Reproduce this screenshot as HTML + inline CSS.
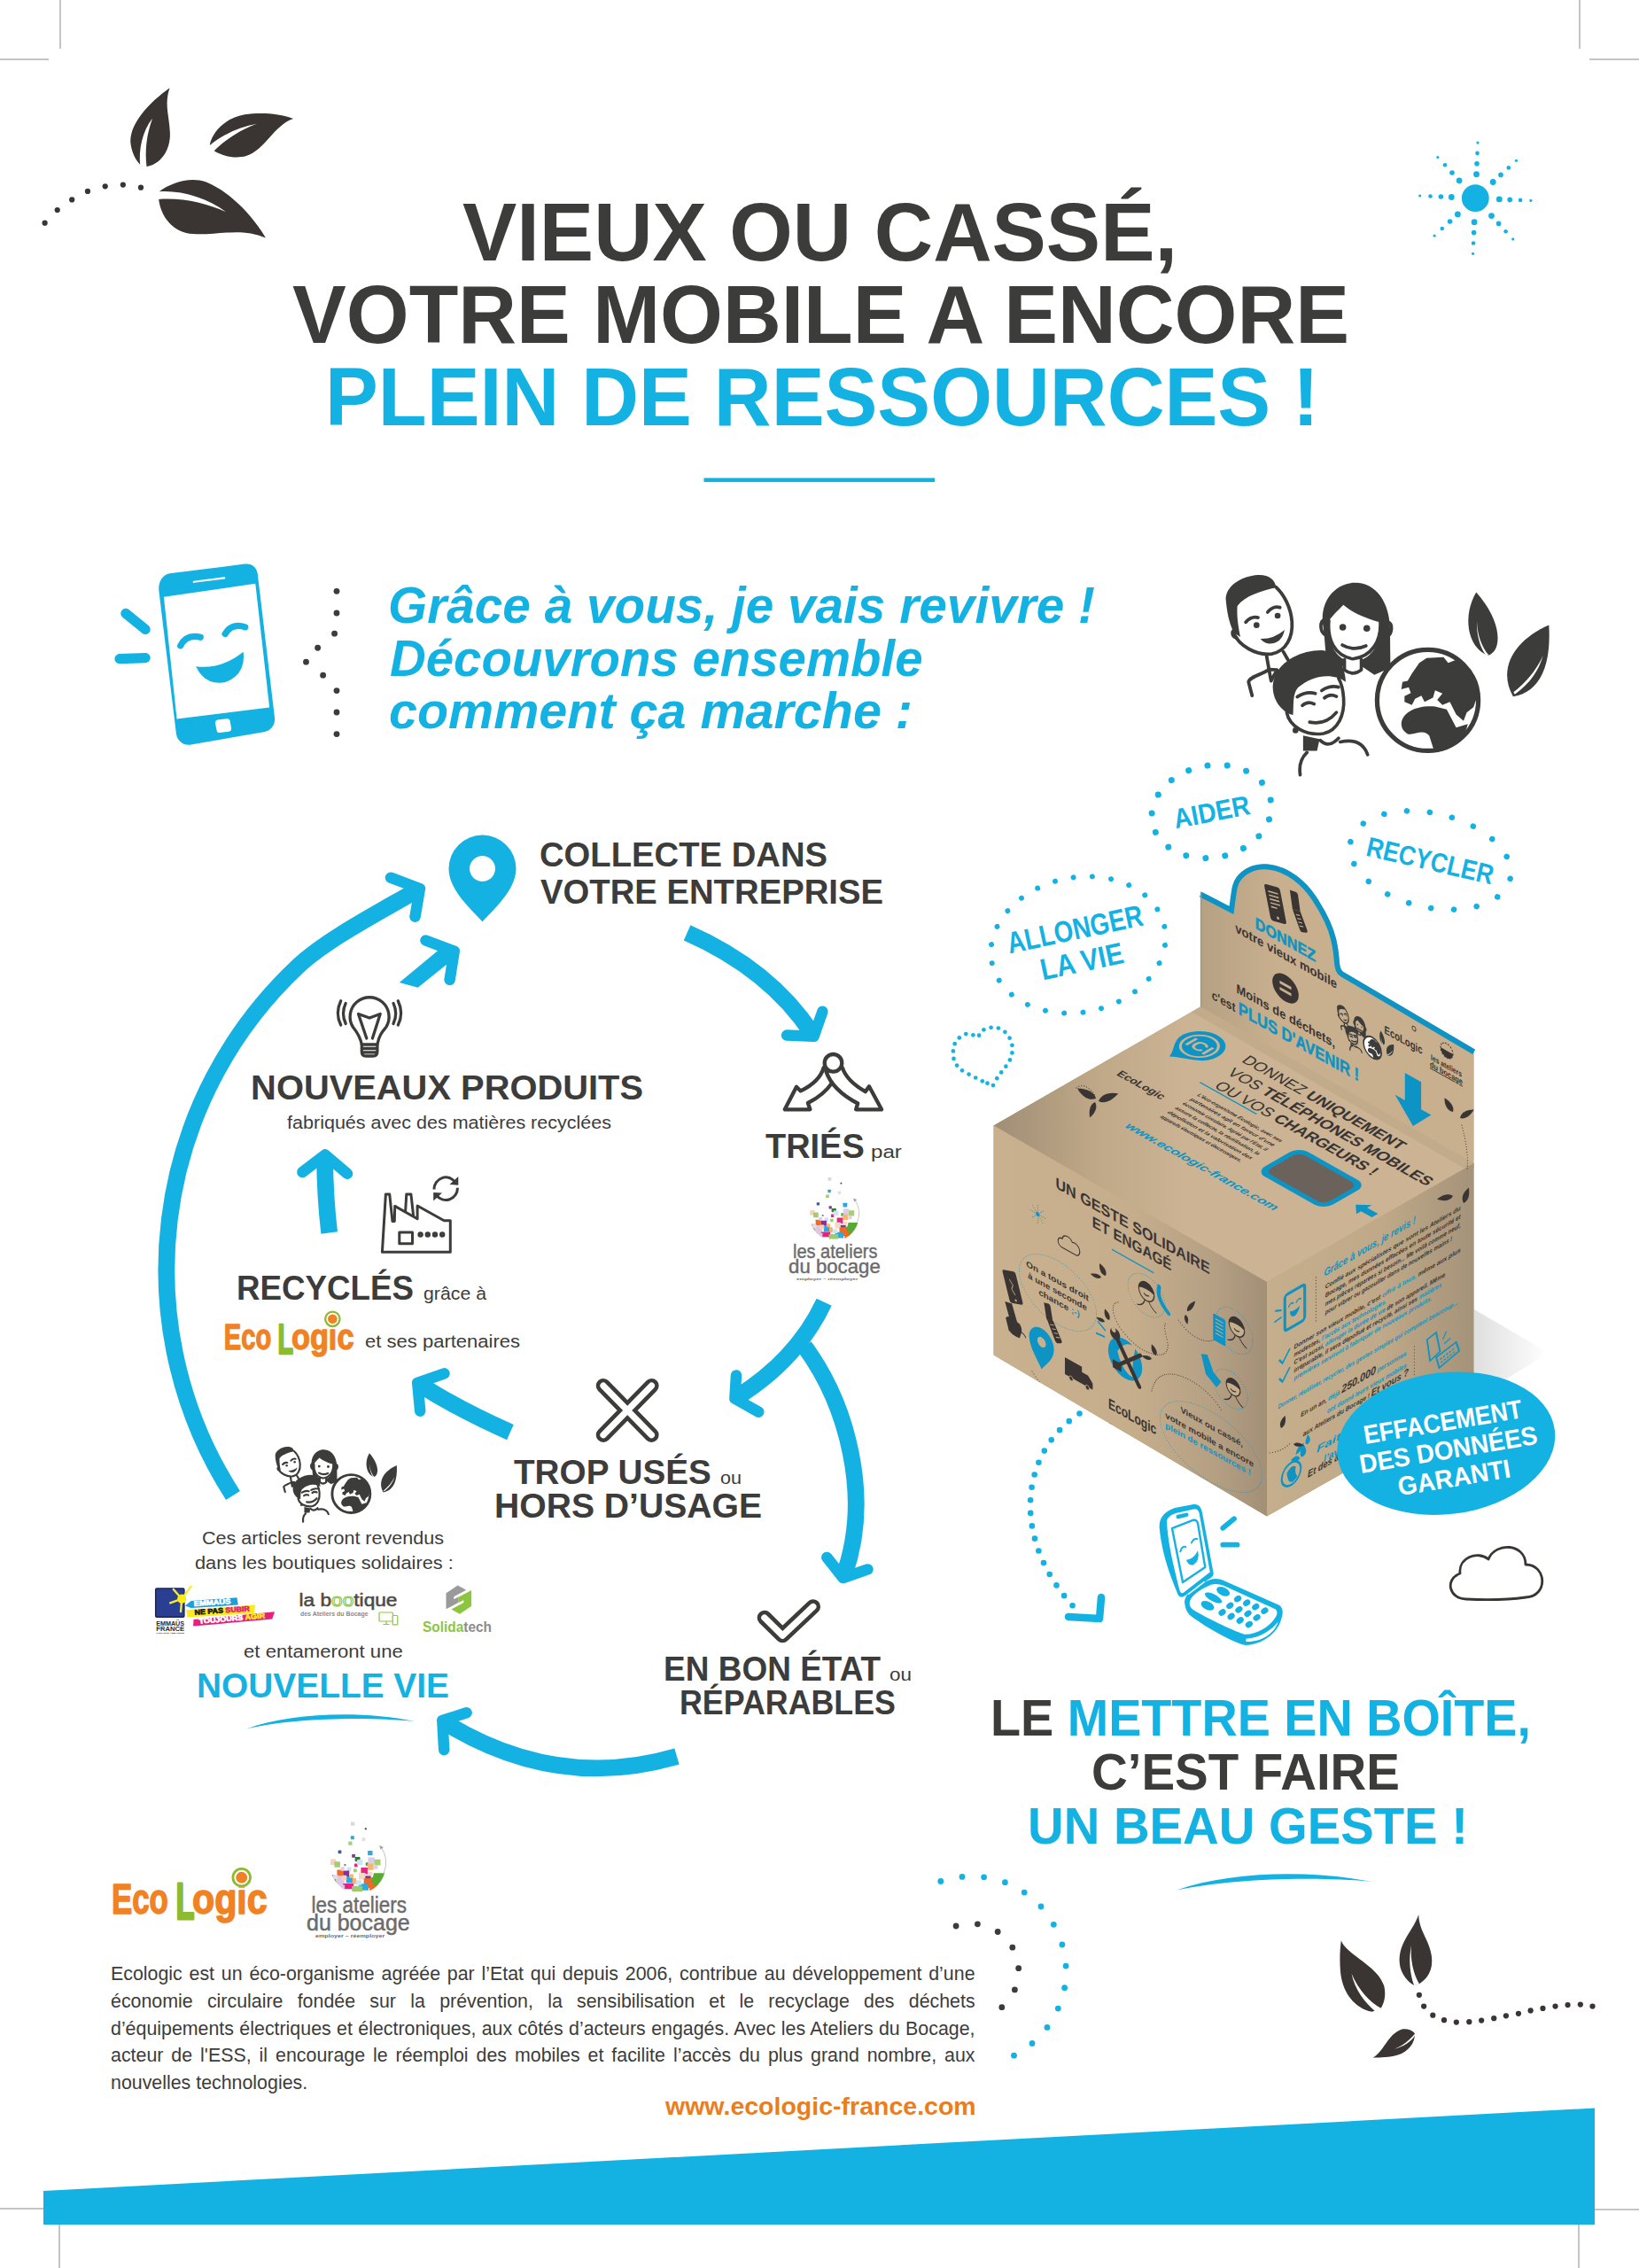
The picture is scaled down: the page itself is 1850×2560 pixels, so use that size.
<!DOCTYPE html>
<html lang="fr">
<head>
<meta charset="utf-8">
<title>Vieux ou cassé, votre mobile a encore plein de ressources !</title>
<style>
html,body{margin:0;padding:0;background:#fff;}
body{width:1850px;height:2560px;overflow:hidden;position:relative;font-family:"Liberation Sans",sans-serif;}
svg{position:absolute;left:0;top:0;display:block;}
text{font-family:"Liberation Sans",sans-serif;}
.b{font-weight:bold;}
.i{font-style:italic;}
.dk{fill:#3c3c3b;}
.bl{fill:#14b2e2;}
.para{position:absolute;left:125px;top:2213px;width:977px;font-size:23.5px;line-height:30.5px;color:#3c3c3b;text-align:justify;margin:0;letter-spacing:-0.1px;}
.url{position:absolute;left:700px;top:2368px;width:402px;text-align:right;font-size:26px;font-weight:bold;color:#ea7d1e;margin:0;}
</style>
</head>
<body>
<svg width="1850" height="2560" viewBox="0 0 1850 2560">
<defs>
<g id="leaf">
<path d="M0,0 C-22,-18 -26,-52 -2,-92 C20,-52 20,-18 0,0 Z"/>
</g>
</defs>

<!-- SECTION:cropmarks -->
<g stroke="#8a8a8a" stroke-width="1" fill="none">
<path d="M68,0V55 M0,67H55 M1783,0V55 M1794,67H1850 M0,2493H55 M67,2506V2560 M1794,2494H1850 M1782,2506V2560"/>
</g>

<!-- SECTION:band -->
<polygon points="49,2473 1800,2379.5 1800,2511 49,2511" fill="#14b2e2"/>

<!-- SECTION:title -->
<g class="b" font-size="93">
<text class="dk" x="522" y="293.5" textLength="807" lengthAdjust="spacingAndGlyphs">VIEUX OU CASSÉ,</text>
<text class="dk" x="330" y="386.5" textLength="1193" lengthAdjust="spacingAndGlyphs">VOTRE MOBILE A ENCORE</text>
<text class="bl" x="367" y="479.5" textLength="1122" lengthAdjust="spacingAndGlyphs">PLEIN DE RESSOURCES !</text>
</g>
<rect x="794.5" y="539.5" width="260.5" height="4.6" fill="#14b2e2"/>

<!-- SECTION:intro -->
<g class="b i bl" font-size="57">
<text x="438" y="702.5" textLength="798" lengthAdjust="spacingAndGlyphs">Grâce à vous, je vais revivre !</text>
<text x="440" y="763" textLength="601.5" lengthAdjust="spacingAndGlyphs">Découvrons ensemble</text>
<text x="439" y="822" textLength="591" lengthAdjust="spacingAndGlyphs">comment ça marche :</text>
</g>

<!-- SECTION:cycle -->
<!-- arrows -->
<g fill="none" stroke="#14b2e2" stroke-width="18.8">
<path d="M263,1688 A469.4,469.4 0 0 1 336,1091 C368.7,1060 430.9,1028.2 472,1004"/>
<path d="M371.7,1391.5 Q367,1353 366.5,1306"/>
<path d="M575.9,1616.6 Q520,1592 474,1563"/>
<path d="M775.6,1052.9 Q868.9,1094 917,1167"/>
<path d="M930.2,1469.8 Q899.4,1535.2 831,1577.5"/>
<path d="M908,1519.8 C956,1585 985,1690 952,1780"/>
<path d="M764,1982.5 Q628,2022.5 500,1943"/>
</g>
<polygon fill="#14b2e2" points="450.8,1108.9 497.6,1070.3 512,1080 507.4,1085.9 471.7,1114.7"/>
<g fill="none" stroke="#14b2e2" stroke-width="12.5" stroke-linecap="round" stroke-linejoin="round">
<polyline points="441,990.7 473.9,1003 468.5,1034.7"/>
<polyline points="480.5,1061.5 512.7,1073.7 507.6,1105.9"/>
<polyline points="341.4,1323 367,1303.5 392,1324.8"/>
<polyline points="501.5,1550.3 471.2,1561 474.2,1592.7"/>
<polyline points="928.4,1141.7 918.6,1169.7 888.1,1168.5"/>
<polyline points="831,1552.4 829.4,1578.6 856.3,1593.7"/>
<polyline points="933.3,1757.9 951.6,1781 979.4,1771.4"/>
<polyline points="526.6,1933.2 499.3,1942 501.2,1975.2"/>
</g>
<!-- pin -->
<path fill="#14b2e2" fill-rule="evenodd" d="M544.5,1040.5 C536,1030 506.5,1006 506.5,980.5 A38,38 0 1 1 582.5,980.5 C582.5,1006 553,1030 544.5,1040.5 Z M544.5,966 a14.5,14.5 0 1 0 0.01,0 Z"/>

<!-- texts -->
<g class="b dk" font-size="38">
<text x="609.0" y="977.5" textLength="325.0" lengthAdjust="spacingAndGlyphs">COLLECTE DANS</text>
<text x="610.0" y="1020" textLength="387.0" lengthAdjust="spacingAndGlyphs">VOTRE ENTREPRISE</text>
<text x="283.1" y="1240.5" textLength="442.9" lengthAdjust="spacingAndGlyphs">NOUVEAUX PRODUITS</text>
<text x="864.0" y="1306.5" textLength="111.7" lengthAdjust="spacingAndGlyphs">TRIÉS</text>
<text x="267.0" y="1466.5" textLength="200.0" lengthAdjust="spacingAndGlyphs">RECYCLÉS</text>
<text x="580.0" y="1674.5" textLength="222.8" lengthAdjust="spacingAndGlyphs">TROP USÉS</text>
<text x="558.0" y="1713" textLength="302.0" lengthAdjust="spacingAndGlyphs">HORS D’USAGE</text>
<text x="749.1" y="1896.5" textLength="245.1" lengthAdjust="spacingAndGlyphs">EN BON ÉTAT</text>
<text x="767.0" y="1934.5" textLength="244.0" lengthAdjust="spacingAndGlyphs">RÉPARABLES</text>
</g>
<text class="b bl" font-size="39" x="222.0" y="1916" textLength="285.0" lengthAdjust="spacingAndGlyphs">NOUVELLE VIE</text>
<g class="dk" font-size="20.5">
<text x="324.1" y="1273.5" textLength="365.9" lengthAdjust="spacingAndGlyphs">fabriqués avec des matières recyclées</text>
<text x="983.0" y="1306.5" textLength="34.9" lengthAdjust="spacingAndGlyphs">par</text>
<text x="478.0" y="1466.5" textLength="71.0" lengthAdjust="spacingAndGlyphs">grâce à</text>
<text x="412.0" y="1521" textLength="175.1" lengthAdjust="spacingAndGlyphs">et ses partenaires</text>
<text x="813.1" y="1674.5" textLength="24" lengthAdjust="spacingAndGlyphs">ou</text>
<text x="1004" y="1896.5" textLength="25" lengthAdjust="spacingAndGlyphs">ou</text>
<text x="228.0" y="1743" textLength="273.0" lengthAdjust="spacingAndGlyphs">Ces articles seront revendus</text>
<text x="220.0" y="1771" textLength="291.8" lengthAdjust="spacingAndGlyphs">dans les boutiques solidaires :</text>
<text x="275.0" y="1871" textLength="179.8" lengthAdjust="spacingAndGlyphs">et entameront une</text>
</g>
<path d="M278,1951.5 C330,1932.5 410,1931 468,1943 C410,1937.5 330,1939.5 278,1951.5 Z" fill="#14b2e2"/>

<!-- lightbulb -->
<g fill="none" stroke="#3c3c3b" stroke-width="3.3" stroke-linecap="round" stroke-linejoin="round">
<path d="M408.3,1179 C406,1168 402,1164 398.5,1159.5 A22,22 0 1 1 435.7,1159.5 C432,1164 428,1168 425.9,1179 Z"/>
<path d="M408.3,1179 V1187 Q408.3,1192 413,1192 H421 Q425.9,1192 425.9,1187 V1179 M409,1183.5 H425 M409,1187.8 H425"/>
<path d="M413.8,1172 L404.5,1144.5 L417.1,1149 L429.2,1144.5 L420.4,1172"/>
<path d="M384.7,1129.7 Q378,1143.5 384.7,1157.1 M390.2,1132.4 Q384.8,1144 390.2,1155.5 M444,1132.4 Q449.4,1144 444,1155.5 M449.3,1129.7 Q456,1143.5 449.3,1157.1"/>
</g>
<!-- factory -->
<g fill="none" stroke="#3c3c3b" stroke-width="3" stroke-linejoin="round">
<path d="M431.4,1413.3 L435.4,1347.9 H439.7 L443,1378.5 H445.3 L445.7,1361.4 L471.1,1375.7 V1361 L501.2,1377.7 H508.3 V1413.3 Z"/>
<path d="M457.6,1367.5 L458.8,1347.9 H463.9 L466.7,1372.9"/>
<rect x="450.8" y="1391.1" width="14.7" height="12.7"/>
<circle cx="474.6" cy="1393.5" r="1.7"/><circle cx="482.8" cy="1393.5" r="1.7"/><circle cx="491" cy="1393.5" r="1.7"/><circle cx="499.2" cy="1393.5" r="1.7"/>
<path d="M490,1342.5 A13.2,13.2 0 0 1 514,1334.5" />
<path d="M516.4,1340.7 A13.2,13.2 0 0 1 492.5,1349"/>
</g>
<path fill="#3c3c3b" d="M517.3,1328 L517.3,1337.8 L507.5,1337 Z M489.2,1355.5 L489.2,1346 L499,1346.6 Z"/>
<!-- split icon -->
<g fill="#fff" stroke="#3c3c3b" stroke-width="4.3" stroke-linejoin="round">
<path d="M929.8,1204.9 C926,1218 915,1226 903.7,1231.4 L899,1226.7 L885.8,1252.3 H914.4 L911.9,1245 C924,1239 934,1230 940,1221.1 L945,1210 Z"/>
<path d="M950.7,1204.9 C955,1218 966,1226 976.8,1232.2 L981,1226.3 L995.1,1252.3 H966.1 L968.2,1245.5 C954,1238 938,1226 932.4,1209.2 Z"/>
<circle cx="940.5" cy="1199.8" r="9.8"/>
</g>
<!-- X icon -->
<g fill="none" stroke-linecap="round">
<path stroke="#3c3c3b" stroke-width="16.5" d="M681,1564.2 L735.4,1619.7 M735.4,1564.2 L681,1619.7"/>
<path stroke="#fff" stroke-width="7.3" d="M681,1564.2 L735.4,1619.7 M735.4,1564.2 L681,1619.7"/>
</g>
<!-- check icon -->
<g fill="none" stroke-linecap="round" stroke-linejoin="round">
<path stroke="#3c3c3b" stroke-width="16.5" d="M862.9,1826 L883.3,1846.1 L917.8,1813.5"/>
<path stroke="#fff" stroke-width="7.3" d="M862.9,1826 L883.3,1846.1 L917.8,1813.5"/>
</g>

<defs>
<g id="ecologic">
<text class="b" font-size="49" y="0" stroke-width="1.6" stroke-linejoin="round"><tspan x="0.8" fill="#f08223" stroke="#f08223" textLength="64" lengthAdjust="spacingAndGlyphs">Eco</tspan><tspan x="73.5" dy="5.8" font-size="58" fill="#8dbb30" stroke="#8dbb30" stroke-width="3" textLength="21" lengthAdjust="spacingAndGlyphs">L</tspan><tspan x="92" dy="-5.8" fill="#f08223" stroke="#f08223" textLength="84.5" lengthAdjust="spacingAndGlyphs">ogic</tspan></text>
<circle cx="147.6" cy="-40.6" r="11.2" fill="#fff"/>
<circle cx="147.6" cy="-40.6" r="9.8" fill="none" stroke="#8dbb30" stroke-width="2.8"/>
<circle cx="147.6" cy="-40.6" r="6.4" fill="#f08223"/>
</g>
<g id="ateliers"><g transform="translate(330,2040) scale(0.091516)">
<clipPath id="atc"><path d="M470,100 H1150 V720 A340,340 0 0 1 470,720 Z"/></clipPath>
<g clip-path="url(#atc)">
<polygon points="470,830 545,830 575,930 470,930" fill="#5aaa32"/>
<polygon points="1005,810 1160,810 1160,1000 960,1000" fill="#5aaa32"/>
<rect x="721" y="181" width="47" height="47" rx="6" fill="#d9d9d9"/>
<rect x="893" y="253" width="23" height="23" rx="6" fill="#3c4a3c"/>
<rect x="719" y="352" width="44" height="44" rx="6" fill="#3ba7c4"/>
<rect x="859" y="374" width="41" height="41" rx="6" fill="#ebd9dc"/>
<rect x="691" y="421" width="47" height="47" rx="6" fill="#a8cf7a"/>
<rect x="564" y="529" width="41" height="41" rx="6" fill="#3f5aa0"/>
<rect x="930" y="535" width="59" height="59" rx="6" fill="#29abe2"/>
<rect x="734" y="579" width="41" height="41" rx="6" fill="#7b3f8c"/>
<rect x="772" y="613" width="64" height="53" rx="6" fill="#2e7d3a"/>
<rect x="469" y="639" width="70" height="70" rx="6" fill="#f3d3bc"/>
<rect x="519" y="669" width="70" height="70" rx="6" fill="#a3cc74"/>
<rect x="638" y="700" width="23" height="23" rx="6" fill="#808080"/>
<rect x="764" y="694" width="41" height="41" rx="6" fill="#d6337e"/>
<rect x="799" y="644" width="70" height="70" rx="6" fill="#cde6f5"/>
<rect x="904" y="679" width="41" height="41" rx="6" fill="#4fa535"/>
<rect x="933" y="618" width="82" height="82" rx="6" fill="#d9cde8"/>
<rect x="1011" y="641" width="76" height="76" rx="6" fill="#a6cf6e"/>
<rect x="926" y="696" width="76" height="76" rx="6" fill="#f7b56f"/>
<rect x="1006" y="716" width="47" height="47" rx="6" fill="#dccfe6"/>
<rect x="673" y="738" width="53" height="53" rx="6" fill="#cfe3f2"/>
<rect x="754" y="759" width="41" height="41" rx="6" fill="#9ccb6c"/>
<rect x="846" y="743" width="82" height="82" rx="6" fill="#e5277e"/>
<rect x="551" y="771" width="76" height="76" rx="6" fill="#ee6b21"/>
<rect x="626" y="781" width="76" height="76" rx="6" fill="#8e2f92"/>
<rect x="818" y="808" width="82" height="82" rx="6" fill="#f5d9c8"/>
<rect x="536" y="851" width="106" height="106" rx="6" fill="#dcc8e4"/>
<rect x="663" y="853" width="82" height="82" rx="6" fill="#27aae1"/>
<rect x="741" y="874" width="47" height="70" rx="6" fill="#f6b26b"/>
<rect x="899" y="844" width="70" height="70" rx="6" fill="#7e3a8a"/>
<rect x="881" y="876" width="118" height="118" rx="6" fill="#f26a21"/>
<rect x="625" y="939" width="129" height="70" rx="6" fill="#e91e7f"/>
<rect x="821" y="943" width="118" height="82" rx="6" fill="#2aabe2"/>
<rect x="735" y="969" width="129" height="70" rx="6" fill="#9ccb6c"/>
<rect x="610" y="840" width="59" height="59" rx="6" fill="#f3d3bc"/>
<rect x="784" y="900" width="70" height="59" rx="6" fill="#cde6f5"/>
<rect x="974" y="864" width="70" height="70" rx="6" fill="#5aaa32"/>
<rect x="500" y="830" width="59" height="59" rx="6" fill="#ead9ee"/>
<rect x="930" y="796" width="59" height="47" rx="6" fill="#f5d9c8"/>
<rect x="706" y="826" width="47" height="47" rx="6" fill="#f7b56f"/>
<rect x="596" y="736" width="47" height="47" rx="6" fill="#dccfe6"/>
<rect x="952" y="964" width="94" height="70" rx="6" fill="#f26a21"/>
<rect x="552" y="955" width="94" height="59" rx="6" fill="#dcc8e4"/>
</g>
<path d="M1128,810 A340,340 0 0 0 1100,500" fill="none" stroke="#a0a0a0" stroke-width="7"/>
<polygon points="1072,470 1125,492 1088,520" fill="#a0a0a0"/>
</g>
<g fill="#6b6b6b" stroke="#6b6b6b" stroke-width="0.45">
<text x="351.5" y="2159" font-size="25" textLength="107.5" lengthAdjust="spacingAndGlyphs">les ateliers</text>
<text x="346" y="2178.8" font-size="25" textLength="116.7" lengthAdjust="spacingAndGlyphs">du bocage</text>
<text class="b" stroke="none" x="356" y="2187" font-size="4.6" textLength="78.3" lengthAdjust="spacingAndGlyphs">employer – réemployer</text>
</g></g>
</defs>
<use href="#ecologic" transform="translate(125.1,2159.8)"/>
<use href="#ecologic" transform="translate(252.1,1522.7) scale(0.835)"/>
<use href="#ateliers"/>
<use href="#ateliers" transform="translate(941.7,1372.7) scale(0.888) translate(-404.1,-2105.9)"/>
<g transform="translate(170,1785) scale(0.091516)">
<rect x="62" y="88" width="352" height="352" rx="14" fill="#2a3f92" stroke="#1b2454" stroke-width="16"/>
<g stroke="#f4ec3a" stroke-width="26" stroke-linecap="round"><path d="M385,215 L498,62 M385,215 L282,98 M385,215 L242,266 M385,215 L372,372"/></g>
<circle cx="385" cy="215" r="56" fill="#fbea1e"/>
<polygon points="425,300 500,240 1065,200 1080,290 500,328" fill="#1e9fda"/>
<polygon points="440,352 1290,290 1275,395 452,442" fill="#fbea1e"/>
<polygon points="530,470 1530,375 1500,465 525,552" fill="#e6207e"/>
<g class="b" font-size="88" stroke-width="7" stroke-linejoin="round">
<text transform="rotate(-4 535 305)" x="535" y="305" fill="#fff" stroke="#fff" textLength="455" lengthAdjust="spacingAndGlyphs">EMMAÜS</text>
<text transform="rotate(-4 545 412)" x="545" y="412" textLength="680" lengthAdjust="spacingAndGlyphs"><tspan fill="#1a1a1a" stroke="#1a1a1a">NE PAS </tspan><tspan fill="#e6207e" stroke="#e6207e">SUBIR</tspan></text>
<text transform="rotate(-5 600 522)" x="600" y="522" textLength="815" lengthAdjust="spacingAndGlyphs"><tspan fill="#fff" stroke="#fff">TOUJOURS </tspan><tspan fill="#fbea1e" stroke="#fbea1e">AGIR</tspan></text>
</g>
<g class="b" fill="#2b2b2b">
<text x="68" y="545" font-size="78" textLength="348" lengthAdjust="spacingAndGlyphs">EMMAÜS</text>
<text x="68" y="612" font-size="78" textLength="348" lengthAdjust="spacingAndGlyphs">FRANCE</text>
<text x="68" y="642" font-size="26" textLength="348" lengthAdjust="spacingAndGlyphs">FONDATEUR ABBÉ PIERRE</text>
</g>
</g>
<g>
<text x="337.5" y="1813" font-size="19.5" textLength="111" lengthAdjust="spacingAndGlyphs" stroke-width="0.5"><tspan fill="#4a4a4a" stroke="#4a4a4a">la b</tspan><tspan fill="#fff" stroke="#8cc63f" stroke-width="1">oo</tspan><tspan fill="#4a4a4a" stroke="#4a4a4a">tique</tspan></text>
<text x="339" y="1823.8" font-size="6.4" class="b" fill="#8a8a8a" textLength="76.5" lengthAdjust="spacingAndGlyphs">des Ateliers du Bocage</text>
<g fill="none" stroke="#8cc63f" stroke-width="1.2"><rect x="428" y="1820" width="15.5" height="10" rx="1"/><path d="M432.5,1833.5 H439.5 M436,1830 V1833.5"/><rect x="443.2" y="1823.5" width="5.6" height="10.4" rx="1" fill="#fff"/></g>
</g>
<g>
<g transform="translate(330,1780) scale(0.14643)">
<polygon fill="#9a9a9a" points="1275,65 1340,100 1245,152 1245,172 1282,152 1282,197 1185,248 1185,125"/>
<polygon fill="#8cc63f" points="1290,285 1225,250 1320,198 1320,178 1283,198 1283,153 1380,102 1380,225"/>
</g>
<text x="477" y="1842.2" font-size="16.5" class="b" textLength="78" lengthAdjust="spacingAndGlyphs"><tspan fill="#8cc63f">Solida</tspan><tspan fill="#8c8c8c">tech</tspan></text>
</g>
<!-- SECTION:right -->
<g transform="translate(1367.5,916) rotate(-11)">
<ellipse rx="68" ry="52" fill="none" stroke="#14b2e2" stroke-width="7" stroke-linecap="round" pathLength="17" stroke-dasharray="0 1"/>
<text class="b bl" font-size="31" text-anchor="middle" x="0" y="11.2" textLength="87" lengthAdjust="spacingAndGlyphs">AIDER</text>
</g>
<g transform="translate(1614.5,971) rotate(13)">
<ellipse rx="92.5" ry="53" fill="none" stroke="#14b2e2" stroke-width="6.6" stroke-linecap="round" pathLength="18" stroke-dasharray="0 1"/>
<text class="b bl" font-size="31" text-anchor="middle" x="0" y="11.2" textLength="146" lengthAdjust="spacingAndGlyphs">RECYCLER</text>
</g>
<g transform="translate(1217,1066.5) rotate(-12)">
<ellipse rx="99.5" ry="76" fill="none" stroke="#14b2e2" stroke-width="6" stroke-linecap="round" pathLength="26" stroke-dasharray="0 1"/>
<text class="b bl" font-size="34" text-anchor="middle" x="0" y="-6.3" textLength="156" lengthAdjust="spacingAndGlyphs">ALLONGER</text>
<text class="b bl" font-size="34" text-anchor="middle" x="0" y="30.7" textLength="95" lengthAdjust="spacingAndGlyphs">LA VIE</text>
</g>
<g fill="#14b2e2">
<circle cx="1105.1" cy="1168.7" r="2.35"/>
<circle cx="1098.4" cy="1168.3" r="2.35"/>
<circle cx="1090.3" cy="1167.1" r="2.35"/>
<circle cx="1082.8" cy="1171.4" r="2.35"/>
<circle cx="1077.7" cy="1178.2" r="2.35"/>
<circle cx="1075.9" cy="1186.4" r="2.35"/>
<circle cx="1076.5" cy="1194.9" r="2.35"/>
<circle cx="1080.1" cy="1202.6" r="2.35"/>
<circle cx="1086.0" cy="1208.3" r="2.35"/>
<circle cx="1093.6" cy="1212.6" r="2.35"/>
<circle cx="1101.2" cy="1216.5" r="2.35"/>
<circle cx="1108.8" cy="1220.3" r="2.35"/>
<circle cx="1114.5" cy="1222.7" r="2.35"/>
<circle cx="1121.0" cy="1225.1" r="2.35"/>
<circle cx="1125.3" cy="1217.2" r="2.35"/>
<circle cx="1130.2" cy="1210.4" r="2.35"/>
<circle cx="1135.4" cy="1203.7" r="2.35"/>
<circle cx="1139.9" cy="1196.4" r="2.35"/>
<circle cx="1142.4" cy="1188.4" r="2.35"/>
<circle cx="1142.4" cy="1179.8" r="2.35"/>
<circle cx="1139.6" cy="1171.7" r="2.35"/>
<circle cx="1134.4" cy="1164.8" r="2.35"/>
<circle cx="1126.9" cy="1160.5" r="2.35"/>
<circle cx="1118.6" cy="1159.8" r="2.35"/>
<circle cx="1110.4" cy="1162.3" r="2.35"/>
</g>
<defs>
<linearGradient id="gTop" gradientUnits="userSpaceOnUse" x1="1122" y1="1273" x2="1340" y2="1273"><stop offset="0" stop-color="#a08e75"/><stop offset="0.55" stop-color="#c0a988"/><stop offset="1" stop-color="#cbb393"/></linearGradient>
<linearGradient id="gLeft" gradientUnits="userSpaceOnUse" x1="1122" y1="0" x2="1431" y2="0"><stop offset="0" stop-color="#c9b190"/><stop offset="0.5" stop-color="#c6ae8c"/><stop offset="0.8" stop-color="#b5a084"/><stop offset="1" stop-color="#a18f76"/></linearGradient>
<linearGradient id="gRight" gradientUnits="userSpaceOnUse" x1="1431" y1="0" x2="1662" y2="0"><stop offset="0" stop-color="#c4ae8c"/><stop offset="0.55" stop-color="#bfa988"/><stop offset="1" stop-color="#a5937a"/></linearGradient>
<linearGradient id="gSlot" gradientUnits="userSpaceOnUse" x1="1430" y1="1300" x2="1530" y2="1350"><stop offset="0" stop-color="#6b625c"/><stop offset="1" stop-color="#8c8072"/></linearGradient>
<linearGradient id="gBack" gradientUnits="userSpaceOnUse" x1="1355" y1="0" x2="1440" y2="0"><stop offset="0" stop-color="#b5a183"/><stop offset="1" stop-color="#c8af8e"/></linearGradient>
<linearGradient id="gShadow" gradientUnits="userSpaceOnUse" x1="1662" y1="0" x2="1748" y2="0"><stop offset="0" stop-color="#dedede"/><stop offset="1" stop-color="#ffffff"/></linearGradient>
</defs>
<polygon points="1664,1478 1748,1527 1664,1579" fill="url(#gShadow)"/>
<path d="M1355.2,1143 L1355.2,1006.7 L1390,1024.5 C1391,1006 1392,996 1396,990 C1404,979 1418,974.5 1431.3,975.6 C1456,978 1474,996 1485.2,1012 C1498,1031 1505,1048 1508,1059.6 C1511,1072 1511.5,1082 1512.2,1088.6 C1513,1093 1514,1095.5 1516.3,1096.9 L1663.7,1183.8 L1663.7,1319 Z" fill="url(#gBack)"/>
<path d="M1355.2,1009.5 L1390,1027.3 C1393,1006 1393,998 1398,992 C1406,982 1418,977.5 1431.3,978.5 C1454,981 1472,997 1483,1013.5 C1496,1033 1502.5,1049 1505.2,1060.5 C1508.5,1074 1508.5,1083 1509.3,1089.5 C1510.2,1095 1512,1098 1514.8,1099.6 L1663.7,1187.3" fill="none" stroke="#0d93c4" stroke-width="6"/>
<polygon points="1355.2,1136.3 1663.5,1313 1663.5,1579 1430,1711.5 1121.5,1529.5 1121.5,1270.6" fill="#bfa988"/>
<polygon points="1355.2,1136.3 1663.5,1313 1430,1447 1121.5,1270.6" fill="url(#gTop)"/>
<polygon points="1121.5,1270.6 1430,1447 1430,1711.5 1121.5,1529.5" fill="url(#gLeft)"/>
<polygon points="1430,1447 1663.5,1313 1663.5,1579 1430,1711.5" fill="url(#gRight)"/>
<polygon points="1355.2,1136.3 1663.5,1313 1653.5,1319 1345.2,1142.3" fill="#b9a384" opacity="0.5"/>
<g transform="matrix(0.8720,0.4897,0.0000,1.0000,1355.6,1138.6)">
<text class="b" fill="#0d93c4" font-size="18" x="70.2" y="-125.4" textLength="78.4" lengthAdjust="spacingAndGlyphs" stroke="#0d93c4" stroke-width="0.5">DONNEZ</text>
<text class="b" fill="#3a3533" font-size="14.5" x="44.4" y="-108.6" textLength="131.7" lengthAdjust="spacingAndGlyphs">votre vieux mobile</text>
<text class="b" fill="#3a3533" font-size="14.5" x="45.9" y="-40.9" textLength="127.8" lengthAdjust="spacingAndGlyphs">Moins de déchets,</text>
<text class="b" x="13.8" y="-17.9" textLength="190.8" lengthAdjust="spacingAndGlyphs"><tspan font-size="14.5" fill="#3a3533">c'est </tspan><tspan font-size="20" fill="#0d93c4" stroke="#0d93c4" stroke-width="0.5">PLUS D'AVENIR !</tspan></text>
<ellipse cx="109.4" cy="-76.6" rx="17" ry="15" fill="#3a3533"/>
<path d="M101.9,-80.2 h15 M101.9,-73.0 h15" stroke="#c8af8e" stroke-width="3.2"/>
<g transform="translate(96.2,-165.2) rotate(-14)"><rect x="-10.5" y="-19" width="21" height="38" rx="3" fill="#3a3533"/><path d="M-6.5,-12 h13 m-13,4 h13 m-13,4 h13 m-13,4 h13 m-13,4 h8" stroke="#c8af8e" stroke-width="1.5"/><circle cx="0" cy="14.5" r="1.6" fill="#c8af8e"/></g>
<g transform="translate(122.0,-159.4)"><path d="M-7,-31 l8,-1.5 q2,0 2.5,2 l3,17 l-10,2.5 Z" fill="#3a3533"/><path d="M-3.5,-11 l10,-2.5 l9,17 q1,2.5 -1.5,3.5 l-5,2 q-2,0.5 -3,-1.5 Z" fill="#3a3533"/><path d="M1,-7 l5,-1.5 m-3.5,5 l5,-1.5 m-3.5,5 l5,-1.5 m-3.5,5 l5,-1.5" stroke="#c8af8e" stroke-width="1.1"/></g>
<text class="b" fill="#3a3533" font-size="13" x="237.3" y="-88.6" textLength="49.3" lengthAdjust="spacingAndGlyphs">EcoLogic</text>
<circle cx="275.7" cy="-112.6" r="2.4" fill="none" stroke="#3a3533" stroke-width="1"/>
<text class="b" fill="#3a3533" font-size="9" x="297.5" y="-88.1" textLength="40.1" lengthAdjust="spacingAndGlyphs">les ateliers</text>
<text class="b" fill="#3a3533" font-size="9.5" x="296.3" y="-79.6" textLength="42.4" lengthAdjust="spacingAndGlyphs" text-decoration="underline">du bocage</text>
<circle cx="318.1" cy="-108.4" r="8" fill="none" stroke="#3a3533" stroke-width="1.2" stroke-dasharray="2 1.5"/>
<path d="M310.1,-108.4 a8,8 0 0 0 16,0 Z" fill="#3a3533"/>
<path d="M264.0,-57.0 h21 v31 h13 l-23.5,24 l-23.5,-24 h13 Z" fill="#0d93c4"/>
<use href="#people" style="--psw:30;--gsw:40" transform="translate(204.9,-72.0) scale(0.048) translate(-660,-480)"/>
</g>
<path d="M1355.6,1006.7 V1136.3" stroke="#a8957a" stroke-width="1.5"/>
<g transform="matrix(0.8720,0.4897,-0.7880,0.6160,1355.6,1138.6)">
<text class="b" fill="#3a3533" font-size="17.5" x="80.7" y="32.3" textLength="205.3" lengthAdjust="spacingAndGlyphs"><tspan font-weight="normal">DONNEZ </tspan>UNIQUEMENT</text>
<text class="b" fill="#3a3533" font-size="17.5" x="81.6" y="54.2" textLength="259.6" lengthAdjust="spacingAndGlyphs"><tspan font-weight="normal">VOS </tspan>TÉLÉPHONES MOBILES</text>
<text class="b" fill="#3a3533" font-size="17.5" x="84.7" y="76.1" textLength="205.3" lengthAdjust="spacingAndGlyphs"><tspan font-weight="normal">OU VOS </tspan>CHARGEURS !</text>
<text class="b i" fill="#3a3533" font-size="6" x="80.5" y="94.9" textLength="108" lengthAdjust="spacingAndGlyphs">L’éco-organisme Ecologic, avec ses</text>
<text class="b i" fill="#3a3533" font-size="6" x="79.1" y="104.0" textLength="108" lengthAdjust="spacingAndGlyphs">partenaires agit en faveur d’une</text>
<text class="b i" fill="#3a3533" font-size="6" x="77.7" y="113.1" textLength="108" lengthAdjust="spacingAndGlyphs">économie circulaire. Agréé par l’État, il</text>
<text class="b i" fill="#3a3533" font-size="6" x="76.2" y="122.2" textLength="108" lengthAdjust="spacingAndGlyphs">assure la collecte, la réutilisation, la</text>
<text class="b i" fill="#3a3533" font-size="6" x="74.8" y="131.3" textLength="108" lengthAdjust="spacingAndGlyphs">dépollution et la valorisation des</text>
<text class="b i" fill="#3a3533" font-size="6" x="73.4" y="140.4" textLength="104" lengthAdjust="spacingAndGlyphs">appareils électriques et électroniques.</text>
<text class="b i" fill="#0d93c4" font-size="12.5" x="56.1" y="172.0" textLength="193.9" lengthAdjust="spacingAndGlyphs">www.ecologic-france.com</text>
<text class="b" fill="#3a3533" font-size="12" x="-0.6" y="121.2" textLength="58.4" lengthAdjust="spacingAndGlyphs">EcoLogic</text>
</g>
<g transform="matrix(0.8720,0.4897,-0.8660,0.4996,1355.6,1138.6)">
<path d="M83.0,85.0 H156.5" stroke="#0d93c4" stroke-width="1.6"/>
<g transform="translate(41.6,43.9) rotate(14.3)">
<path d="M0,32.2 C-6,22.2 -24,15 -24,0 A24,24 0 1 1 24,0 C24,15 6,22.2 0,32.2 Z" fill="#0d93c4"/>
</g>
<circle cx="41.6" cy="43.9" r="17.5" fill="none" stroke="#cbb393" stroke-width="2.6"/>
<text class="b" fill="#cbb393" font-size="20" text-anchor="middle" x="41.6" y="50.9" textLength="27" lengthAdjust="spacingAndGlyphs">ICI</text>
<rect x="221.2" y="95.2" width="88" height="56" rx="12" fill="#0d93c4"/>
<rect x="227.2" y="101.2" width="76" height="44" rx="8" fill="url(#gSlot)"/>
<path d="M349.2,128.9 l0,-8 l-14,0 l0,-6 l-11,10 l11,10 l0,-6 Z" fill="#0d93c4"/>
</g>
<g transform="translate(1237,1240) rotate(-60) scale(0.26)" fill="#3a3533"><use href="#leaf"/></g>
<g transform="translate(1240,1243) rotate(70) scale(0.26)" fill="#3a3533"><use href="#leaf"/></g>
<g transform="translate(1236,1244) rotate(200) scale(0.2)" fill="#3a3533"><use href="#leaf"/></g>
<g transform="translate(1640,1255) rotate(-30) scale(0.2)" fill="#3a3533"><use href="#leaf"/></g>
<g transform="translate(1648,1262) rotate(60) scale(0.2)" fill="#3a3533"><use href="#leaf"/></g>
<g transform="translate(1640,1350) rotate(-100) scale(0.2)" fill="#3a3533"><use href="#leaf"/></g>
<g transform="translate(1652,1358) rotate(20) scale(0.2)" fill="#3a3533"><use href="#leaf"/></g>
<path d="M1215,1228 q10,-8 22,10" fill="none" stroke="#3a3533" stroke-width="1.1" stroke-dasharray="0.1 3" stroke-linecap="round"/>
<path d="M1650,1270 q8,30 6,50" fill="none" stroke="#3a3533" stroke-width="1.1" stroke-dasharray="0.1 3" stroke-linecap="round"/>
<clipPath id="cpL"><polygon points="1121.5,1270.6 1430,1447 1430,1711.5 1121.5,1529.5"/></clipPath>
<g clip-path="url(#cpL)"><g transform="matrix(0.8723,0.4890,0.0000,1.0000,1122.0,1272.8)">
<text class="b" fill="#3a3533" font-size="17.5" x="79.7" y="29.1" textLength="199.7" lengthAdjust="spacingAndGlyphs">UN GESTE SOLIDAIRE</text>
<text class="b" fill="#3a3533" font-size="17.5" x="127.0" y="49.7" textLength="102.7" lengthAdjust="spacingAndGlyphs">ET ENGAGÉ</text>
<path d="M152.5,62.9 H206.7" stroke="#0d93c4" stroke-width="1.5"/>
<text class="b" fill="#3a3533" font-size="9.5" x="41.6" y="136.1" textLength="80.8" lengthAdjust="spacingAndGlyphs">On a tous droit</text>
<text class="b" fill="#3a3533" font-size="9.5" x="43.9" y="148.2" textLength="76.2" lengthAdjust="spacingAndGlyphs">à une seconde</text>
<text class="b" fill="#3a3533" font-size="9.5" x="57.8" y="160.1" textLength="53.1" lengthAdjust="spacingAndGlyphs">chance <tspan fill="#0d93c4">;-)</tspan></text>
<text class="b" fill="#3a3533" font-size="16.5" x="147.9" y="244.2" textLength="62.2" lengthAdjust="spacingAndGlyphs">EcoLogic</text>
<text class="b" fill="#3a3533" font-size="9.5" x="241.3" y="203.2" textLength="80.8" lengthAdjust="spacingAndGlyphs">Vieux ou cassé,</text>
<text class="b" fill="#3a3533" font-size="9.5" x="221.7" y="219.1" textLength="114.2" lengthAdjust="spacingAndGlyphs">votre mobile a encore</text>
<text class="b" fill="#0d93c4" font-size="9.5" x="221.7" y="230.5" textLength="110.7" lengthAdjust="spacingAndGlyphs">plein de ressources !</text>
<ellipse cx="82.5" cy="145.8" rx="50" ry="36" fill="none" stroke="#0d93c4" stroke-width="0.9" stroke-dasharray="0.1 2.6" stroke-linecap="round"/>
<ellipse cx="280.9" cy="222.9" rx="66" ry="40" fill="none" stroke="#0d93c4" stroke-width="0.9" stroke-dasharray="0.1 2.6" stroke-linecap="round"/>
<ellipse cx="197.2" cy="92.8" rx="24" ry="22" fill="none" stroke="#0d93c4" stroke-width="0.9" stroke-dasharray="0.1 2.6" stroke-linecap="round"/>
<ellipse cx="310.7" cy="77.3" rx="24" ry="24" fill="none" stroke="#0d93c4" stroke-width="0.9" stroke-dasharray="0.1 2.6" stroke-linecap="round"/>
<ellipse cx="306.1" cy="145.5" rx="22" ry="20" fill="none" stroke="#0d93c4" stroke-width="0.9" stroke-dasharray="0.1 2.6" stroke-linecap="round"/>
<path d="M87.3,92.1 a5,5 0 0 1 1,-10 a7,7 0 0 1 13,-2 a6,6 0 0 1 6,12 Z" fill="none" stroke="#3a3533" stroke-width="1.2"/>
<circle cx="56.6" cy="70.0" r="2.6" fill="#0d93c4"/>
<g stroke="#0d93c4" stroke-width="1.1" stroke-dasharray="0.1 2.4" stroke-linecap="round">
<path d="M61.1,70.0 L68.6,70.0"/>
<path d="M59.8,73.2 L65.1,78.5"/>
<path d="M56.6,74.5 L56.6,82.0"/>
<path d="M53.4,73.2 L48.1,78.5"/>
<path d="M52.1,70.0 L44.6,70.0"/>
<path d="M53.4,66.8 L48.1,61.5"/>
<path d="M56.6,65.5 L56.6,58.0"/>
<path d="M59.8,66.8 L65.1,61.5"/>
</g>
<g transform="translate(24.1,168.4) rotate(-18)"><rect x="-9" y="-17" width="18" height="34" rx="2.5" fill="#3a3533"/><path d="M-2,-8 l3,6 l-3,4 l3,6" fill="none" stroke="#c6ae8c" stroke-width="1"/><circle cx="0" cy="13.5" r="1.3" fill="#c6ae8c"/></g>
<g transform="translate(24.1,211.4)"><path d="M-10,-22 l9,-2 l7,18 l-9,3 Z" fill="#3a3533"/><path d="M-9,-4 q2,-4 8,-4 l10,2 q4,3 2,10 l-2,6 q-8,2 -14,-2 Z" fill="#3a3533"/><path d="M9,2 q6,0 8,4" fill="none" stroke="#3a3533" stroke-width="1.3"/></g>
<g transform="translate(74.5,189.8)"><path d="M-10,-24 l6,-1.5 q2,0 2.5,2 l3,15 l-8,2 Z" fill="#3a3533"/><path d="M-6,-7 l8,-2 l11,17 q1,2.5 -1.5,3.5 l-4,2 q-2,0.5 -3,-1.5 Z" fill="#3a3533"/><path d="M-2,-3 l5,-1.5 m-2.5,5 l5,-1.5 m-2.5,5 l5,-1.5 m-2.5,5 l5,-1.5" stroke="#c6ae8c" stroke-width="1"/></g>
<path fill-rule="evenodd" fill="#0d93c4" d="M61.5,242.6 c-6,-9 -16,-18 -16,-30 a16,16 0 1 1 32,0 c0,12 -10,21 -16,30 Z M61.5,206.6 a5.5,5.5 0 1 0 0.1,0 Z"/>
<path d="M91.7,214.4 h22 v6 h8 l6,6 v7 h-36 Z" fill="#3a3533"/>
<circle cx="99.7" cy="234.4" r="2.6" fill="#3a3533" stroke="#c6ae8c" stroke-width="0.8"/><circle cx="120.7" cy="234.4" r="2.6" fill="#3a3533" stroke="#c6ae8c" stroke-width="0.8"/>
<circle cx="169.7" cy="178.2" r="22" fill="#0d93c4"/>
<path d="M159.7,174.2 q10,-18 24,-16 q-6,18 -4,36 q-14,0 -20,-20 Z" fill="#c6ae8c"/>
<path d="M157.7,158.2 L187.7,200.2" stroke="#3a3533" stroke-width="5.5" stroke-linecap="round"/>
<path d="M189.7,164.2 L159.7,190.2" stroke="#3a3533" stroke-width="4" stroke-linecap="round"/>
<circle cx="156.7" cy="156.2" r="6.5" fill="#3a3533"/><circle cx="154.7" cy="152.2" r="3" fill="#c6ae8c"/>
<rect x="153.7" y="186.2" width="11" height="9" fill="#3a3533"/>
<path d="M143.7,158.2 l-9,-5 M142.7,166.2 l-10,1" stroke="#0d93c4" stroke-width="2" stroke-linecap="round"/>
<circle cx="197.2" cy="88.8" r="10" fill="#c6ae8c" stroke="#3a3533" stroke-width="1.3"/><path d="M187.2,87.8 a10,10 0 0 1 20.0,0 q-10.0,-4 -20.0,0 Z" fill="#3a3533"/><path d="M193.7,91.8 q3,3 7,0" fill="none" stroke="#3a3533" stroke-width="1.1"/><path d="M195.2,98.8 q-2,8 -10,10 M200.2,98.8 q4,6 10,8" fill="none" stroke="#3a3533" stroke-width="1.2"/>
<circle cx="314.1" cy="71.6" r="10" fill="#c6ae8c" stroke="#3a3533" stroke-width="1.3"/><path d="M304.1,70.6 a10,10 0 0 1 20.0,0 q-10.0,-4 -20.0,0 Z" fill="#3a3533"/><path d="M310.6,74.6 q3,3 7,0" fill="none" stroke="#3a3533" stroke-width="1.1"/><path d="M312.1,81.6 q-2,8 -10,10 M317.1,81.6 q4,6 10,8" fill="none" stroke="#3a3533" stroke-width="1.2"/>
<circle cx="309.5" cy="141.8" r="9" fill="#c6ae8c" stroke="#3a3533" stroke-width="1.3"/><path d="M300.5,140.8 a9,9 0 0 1 18.0,0 q-9.0,-4 -18.0,0 Z" fill="#3a3533"/><path d="M306.0,144.8 q3,3 7,0" fill="none" stroke="#3a3533" stroke-width="1.1"/><path d="M307.5,150.8 q-2,8 -10,10 M312.5,150.8 q4,6 10,8" fill="none" stroke="#3a3533" stroke-width="1.2"/>
<path d="M213.7,75.2 q-4,14 12,24" fill="none" stroke="#0d93c4" stroke-width="5" stroke-linecap="round"/>
<rect x="283.5" y="70.7" width="16" height="30" rx="2" fill="#0d93c4"/>
<path d="M286.5,75.7 h10 m-10,4 h10 m-10,4 h10 m-10,4 h10 m-10,4 h10" stroke="#c6ae8c" stroke-width="1.2"/>
<path d="M268.0,124.3 l8,-3 l8,16 l10,6 l-6,9 l-14,-8 Z" fill="#0d93c4"/>
<path d="M49.3,251.1 q30,26 74,26 q20,-2 28,-18" fill="none" stroke="#3a3533" stroke-width="1.1" stroke-dasharray="0.1 2.8" stroke-linecap="round"/>
<path d="M160.5,118.7 c-12,6 -6,22 6,30 c14,8 26,10 40,6 c14,-4 20,-12 18,-22 c-2,-10 -6,-14 -2,-22" fill="none" stroke="#3a3533" stroke-width="1.1" stroke-dasharray="0.1 2.8" stroke-linecap="round"/>
<path d="M204.1,197.4 c4,-20 20,-34 44,-36 c20,-2 36,4 46,14" fill="none" stroke="#3a3533" stroke-width="1.1" stroke-dasharray="0.1 2.8" stroke-linecap="round"/>
<path d="M238.5,100.6 c16,12 34,10 46,0" fill="none" stroke="#3a3533" stroke-width="1.1" stroke-dasharray="0.1 2.8" stroke-linecap="round"/>
</g></g>
<g transform="translate(1248,1440) rotate(-25) scale(0.17)" fill="#3a3533"><use href="#leaf"/></g>
<g transform="translate(1243,1442) rotate(-70) scale(0.14)" fill="#3a3533"><use href="#leaf"/></g>
<g transform="translate(1252,1490) rotate(-20) scale(0.15)" fill="#3a3533"><use href="#leaf"/></g>
<g transform="translate(1247,1492) rotate(-60) scale(0.12)" fill="#3a3533"><use href="#leaf"/></g>
<g transform="translate(1340,1480) rotate(40) scale(0.16)" fill="#3a3533"><use href="#leaf"/></g>
<g transform="translate(1338,1484) rotate(170) scale(0.12)" fill="#3a3533"><use href="#leaf"/></g>
<g transform="translate(1305,1530) rotate(-20) scale(0.15)" fill="#3a3533"><use href="#leaf"/></g>
<g transform="translate(1300,1534) rotate(-70) scale(0.13)" fill="#3a3533"><use href="#leaf"/></g>
<g transform="matrix(0.8634,-0.5046,0.0000,1.0000,1431.0,1446.0)">
<text class="b i" fill="#0d93c4" font-size="12" x="73.5" y="32.1" textLength="119.9" lengthAdjust="spacingAndGlyphs">Grâce à vous, je revis !</text>
<text class="b i" fill="#3a3533" font-size="7.2" x="74.9" y="46.8" textLength="177.2" lengthAdjust="spacingAndGlyphs">Confié aux spécialistes que sont les Ateliers du</text>
<text class="b i" fill="#3a3533" font-size="7.2" x="74.9" y="56.5" textLength="177.2" lengthAdjust="spacingAndGlyphs">Bocage, mes données effacées en toute sécurité et</text>
<text class="b i" fill="#3a3533" font-size="7.2" x="74.9" y="66.2" textLength="177.2" lengthAdjust="spacingAndGlyphs">mes pièces réparées si besoin... Me voilà comme neuf,</text>
<text class="b i" fill="#3a3533" font-size="7.2" x="74.9" y="75.9" textLength="166.0" lengthAdjust="spacingAndGlyphs">pour vibrer ou gazouiller dans de nouvelles mains !</text>
<text class="b i" fill="#3a3533" font-size="7.2" x="34.1" y="94.2" textLength="218.1" lengthAdjust="spacingAndGlyphs">Donner son vieux mobile, c’est <tspan fill="#0d93c4">offrir à tous,</tspan> même aux plus</text>
<text class="b i" fill="#3a3533" font-size="7.2" x="34.1" y="103.0" textLength="121.1" lengthAdjust="spacingAndGlyphs">modestes, <tspan fill="#0d93c4">l’accès aux technologies.</tspan></text>
<text class="b i" fill="#3a3533" font-size="7.2" x="34.1" y="111.8" textLength="197.6" lengthAdjust="spacingAndGlyphs">C’est aussi, <tspan fill="#0d93c4">allonger la durée de vie</tspan> de son appareil. Même</text>
<text class="b i" fill="#3a3533" font-size="7.2" x="34.1" y="120.6" textLength="193.0" lengthAdjust="spacingAndGlyphs">irréparable, il sera dépollué et recyclé, ainsi ses <tspan fill="#0d93c4">matières</tspan></text>
<text class="b i" fill="#3a3533" font-size="7.2" x="34.1" y="129.4" textLength="180.2" lengthAdjust="spacingAndGlyphs"><tspan fill="#0d93c4">premières serviront à fabriquer de nouveaux produits.</tspan></text>
<text class="b i" fill="#0d93c4" font-size="7.2" x="13.2" y="151.2" textLength="235.0" lengthAdjust="spacingAndGlyphs">Donner, réutiliser, recycler, des gestes simples qui comptent beaucoup...</text>
<text class="b i" fill="#3a3533" font-size="7.6" x="43.1" y="175.3" textLength="138.4" lengthAdjust="spacingAndGlyphs">En un an, <tspan fill="#0d93c4">déjà</tspan> <tspan font-size="12.5">250.000</tspan> <tspan fill="#0d93c4">personnes</tspan></text>
<text class="b i" fill="#0d93c4" font-size="7.6" x="77.6" y="188.7" textLength="103.9" lengthAdjust="spacingAndGlyphs">ont donné leurs vieux mobiles</text>
<text class="b i" fill="#3a3533" font-size="7.6" x="46.0" y="198.7" textLength="138.2" lengthAdjust="spacingAndGlyphs">aux Ateliers du Bocage ! <tspan font-size="11">Et vous ?</tspan></text>
<text class="b i" fill="#0d93c4" font-size="11" x="63.7" y="226.2" textLength="51.0" lengthAdjust="spacingAndGlyphs">Faites</text>
<text class="b i" fill="#0d93c4" font-size="11" x="73.0" y="241.8" textLength="41.7" lengthAdjust="spacingAndGlyphs">l’avenir</text>
<text class="b i" fill="#3a3533" font-size="11" x="52.1" y="248.3" textLength="62.5" lengthAdjust="spacingAndGlyphs">Et des actes</text>
<rect x="22.3" y="27.8" width="26" height="40" rx="3.5" fill="none" stroke="#0d93c4" stroke-width="3.6"/>
<path d="M27.3,42.8 q3,-4 6,-1 M37.3,42.8 q3,-4 6,-1" fill="none" stroke="#0d93c4" stroke-width="1.6" stroke-linecap="round"/>
<path d="M28.8,48.8 q6,3 13,0 q-2,8 -7,8 q-5,0 -6,-8 Z" fill="#0d93c4"/>
<path d="M17.3,41.8 l-7,-3 M17.3,49.8 l-8,1" stroke="#0d93c4" stroke-width="2" stroke-linecap="round"/>
<path d="M63.0,27.6 v52" stroke="#3a3533" stroke-width="1.1" stroke-dasharray="0.1 3.4" stroke-linecap="round"/>
<path d="M191.5,170.6 v32" stroke="#3a3533" stroke-width="1.1" stroke-dasharray="0.1 3.4" stroke-linecap="round"/>
<path d="M15.4,97.3 l4,5 l9,-11" fill="none" stroke="#0d93c4" stroke-width="2.2" stroke-linecap="round"/>
<path d="M15.4,118.3 l4,5 l9,-11" fill="none" stroke="#0d93c4" stroke-width="2.2" stroke-linecap="round"/>
<path d="M208.2,171.1 l12,-2 l5,24 l-13,4 Z" fill="none" stroke="#0d93c4" stroke-width="2"/>
<path d="M220.2,197.1 l26,-4 l4,12 l-26,6 Z" fill="none" stroke="#0d93c4" stroke-width="2"/>
<path d="M225.2,202.1 l18,-3 M226.2,206.1 l18,-3" stroke="#0d93c4" stroke-width="1.6" stroke-dasharray="2.5 1.5"/>
<path d="M229.2,181.1 l4,-6 M231.2,187.1 l7,-2" stroke="#0d93c4" stroke-width="1.6" stroke-linecap="round"/>
<circle cx="30.7" cy="233.0" r="12.5" fill="none" stroke="#0d93c4" stroke-width="2.4"/>
<path d="M24.7,230.0 q6,-8 12,-2 q-2,6 2,12 q-8,6 -12,-2 Z" fill="#0d93c4"/>
<path d="M46.3,207.4 c-5,8 -5,13 0,14 c5,-1 5,-6 0,-14 Z" fill="#0d93c4"/>
<path d="M52.3,199.4 c-4,6 -4,10 0,11 c4,-1 4,-5 0,-11 Z" fill="#0d93c4"/>
<path d="M30.3,217.4 q8,-4 12,4 q-8,4 -12,-4 Z M36.3,214.4 q2,-9 11,-8 q-2,9 -11,8 Z" fill="#0d93c4"/>
</g>
<g transform="translate(1446,1612) rotate(20) scale(0.16)" fill="#3a3533"><use href="#leaf"/></g>
<g transform="translate(1460,1630) rotate(100) scale(0.13)" fill="#3a3533"><use href="#leaf"/></g>
<path d="M1433,1640 q16,-2 24,-12" fill="none" stroke="#3a3533" stroke-width="1.1" stroke-dasharray="0.1 3" stroke-linecap="round"/>
<ellipse cx="1632.3" cy="1629.2" rx="123.5" ry="80" transform="rotate(-7 1632.3 1629.2)" fill="#14b2e2"/>
<g transform="translate(1632.3,1629.2) rotate(-9.5)">
<text class="b" fill="#fff" font-size="29.5" text-anchor="middle"><tspan x="0.2" y="-14.3" textLength="181" lengthAdjust="spacingAndGlyphs">EFFACEMENT</tspan><tspan x="1.3" y="17.5" textLength="203" lengthAdjust="spacingAndGlyphs">DES DONNÉES</tspan><tspan x="2.5" y="49.6" textLength="128.5" lengthAdjust="spacingAndGlyphs">GARANTI</tspan></text></g>
<path d="M1218.5,1595.5 C1150,1640 1140,1740 1216,1818" fill="none" stroke="#14b2e2" stroke-width="6.6" stroke-linecap="round" stroke-dasharray="0 14.6"/>
<path d="M1206,1825 L1241,1827 L1243,1803" fill="none" stroke="#14b2e2" stroke-width="8.5" stroke-linecap="round" stroke-linejoin="round"/>
<path d="M1655,1805 C1636,1805 1630,1783 1648,1776 C1646,1758 1668,1750 1680,1760 C1688,1740 1722,1742 1722,1766 C1746,1766 1748,1802 1722,1803 C1700,1806 1676,1806 1655,1805 Z" fill="none" stroke="#3a3533" stroke-width="2.8" stroke-linejoin="round"/>


<!-- SECTION:slogan -->
<g class="b" font-size="57.5">
<text x="1118" y="1958.5" textLength="610" lengthAdjust="spacingAndGlyphs"><tspan class="dk">LE </tspan><tspan class="bl">METTRE EN BOÎTE,</tspan></text>
<text class="dk" x="1232" y="2020" textLength="348" lengthAdjust="spacingAndGlyphs">C’EST FAIRE</text>
<text class="bl" x="1160" y="2080.5" textLength="497" lengthAdjust="spacingAndGlyphs">UN BEAU GESTE !</text>
</g>
<path d="M1328,2133.5 C1390,2112 1480,2110.5 1549,2124 C1480,2117.5 1390,2120.5 1328,2133.5 Z" fill="#14b2e2"/>

<!-- SECTION:footer -->
<g transform="translate(40,90) scale(0.18305)">
<path fill="#3a3533" d="M828,50 C700,140 570,280 588,400 C598,465 628,508 655,532 L688,535 C770,520 832,440 830,330 C828,230 792,150 828,50 Z"/>
<path fill="#fff" d="M646,532 C636,430 658,320 722,238 C684,340 674,440 686,538 Z"/>
<path fill="#3a3533" d="M1590,240 C1500,205 1380,200 1290,215 C1180,235 1095,310 1075,400 L1100,437 C1150,470 1230,490 1300,470 C1420,430 1470,280 1590,240 Z"/>
<path fill="#fff" d="M1070,408 C1150,340 1260,290 1365,272 C1270,305 1170,370 1098,442 Z"/>
<path fill="#3a3533" d="M1420,975 C1340,840 1200,690 1050,630 C950,595 830,640 765,688 L760,735 C770,830 830,920 930,945 C1080,975 1250,900 1420,975 Z"/>
<path fill="#fff" d="M760,690 C900,680 1060,730 1175,815 C1050,760 900,725 756,738 Z"/>
<circle cx="650" cy="665" r="17" fill="#3a3533"/>
<circle cx="540" cy="648" r="17" fill="#3a3533"/>
<circle cx="430" cy="657" r="17" fill="#3a3533"/>
<circle cx="322" cy="688" r="17" fill="#3a3533"/>
<circle cx="225" cy="740" r="17" fill="#3a3533"/>
<circle cx="135" cy="803" r="17" fill="#3a3533"/>
<circle cx="58" cy="883" r="17" fill="#3a3533"/>
</g>
<g transform="translate(1490,2140) scale(0.19524)">
<path fill="#3a3533" d="M122,258 C150,340 330,400 370,520 C385,580 365,630 350,652 L300,670 C200,650 130,560 118,440 C112,370 115,310 122,258 Z"/>
<path fill="#fff" d="M182,450 C220,540 290,620 355,650 L322,670 C260,620 200,540 182,450 Z"/>
<path fill="#3a3533" d="M570,108 C540,200 450,270 460,390 C465,450 510,500 545,517 L572,510 C620,480 655,430 645,350 C635,260 570,200 570,108 Z"/>
<path fill="#fff" d="M528,285 C520,370 540,450 574,510 L544,519 C520,450 510,370 528,285 Z"/>
<path fill="#3a3533" d="M305,935 C370,900 390,800 470,772 C500,765 530,775 548,795 C550,850 510,900 450,920 C400,935 350,935 305,935 Z"/>
<path fill="#fff" d="M552,792 C520,830 480,865 430,885 C480,872 530,842 550,804 Z"/>
<circle cx="573" cy="573" r="16" fill="#3a3533"/>
<circle cx="600" cy="638" r="16" fill="#3a3533"/>
<circle cx="652" cy="690" r="16" fill="#3a3533"/>
<circle cx="717" cy="718" r="16" fill="#3a3533"/>
<circle cx="788" cy="730" r="16" fill="#3a3533"/>
<circle cx="862" cy="728" r="16" fill="#3a3533"/>
<circle cx="933" cy="720" r="16" fill="#3a3533"/>
<circle cx="1005" cy="708" r="16" fill="#3a3533"/>
<circle cx="1075" cy="693" r="16" fill="#3a3533"/>
<circle cx="1147" cy="680" r="16" fill="#3a3533"/>
<circle cx="1217" cy="663" r="16" fill="#3a3533"/>
<circle cx="1288" cy="650" r="16" fill="#3a3533"/>
<circle cx="1360" cy="638" r="16" fill="#3a3533"/>
<circle cx="1432" cy="630" r="16" fill="#3a3533"/>
<circle cx="1505" cy="628" r="16" fill="#3a3533"/>
<circle cx="1575" cy="638" r="16" fill="#3a3533"/>
</g>
<g fill="#14b2e2"><circle cx="1665.3" cy="223.7" r="15.4"/>
<circle cx="1692.3" cy="224.9" r="3.4"/>
<circle cx="1704.2" cy="225.4" r="2.8"/>
<circle cx="1716.1" cy="225.9" r="2.3"/>
<circle cx="1727.9" cy="226.4" r="1.6"/>
<circle cx="1683.5" cy="243.6" r="3.4"/>
<circle cx="1691.6" cy="252.4" r="2.8"/>
<circle cx="1699.6" cy="261.2" r="2.3"/>
<circle cx="1707.7" cy="269.9" r="1.6"/>
<circle cx="1664.1" cy="250.7" r="3.4"/>
<circle cx="1663.6" cy="262.6" r="2.8"/>
<circle cx="1663.1" cy="274.5" r="2.3"/>
<circle cx="1662.6" cy="286.3" r="1.6"/>
<circle cx="1645.4" cy="241.9" r="3.4"/>
<circle cx="1636.6" cy="250.0" r="2.8"/>
<circle cx="1627.8" cy="258.0" r="2.3"/>
<circle cx="1619.1" cy="266.1" r="1.6"/>
<circle cx="1638.3" cy="222.5" r="3.4"/>
<circle cx="1626.4" cy="222.0" r="2.8"/>
<circle cx="1614.5" cy="221.5" r="2.3"/>
<circle cx="1602.7" cy="221.0" r="1.6"/>
<circle cx="1647.1" cy="203.8" r="3.4"/>
<circle cx="1639.0" cy="195.0" r="2.8"/>
<circle cx="1631.0" cy="186.2" r="2.3"/>
<circle cx="1622.9" cy="177.5" r="1.6"/>
<circle cx="1666.5" cy="196.7" r="3.4"/>
<circle cx="1667.0" cy="184.8" r="2.8"/>
<circle cx="1667.5" cy="172.9" r="2.3"/>
<circle cx="1668.0" cy="161.1" r="1.6"/>
<circle cx="1685.2" cy="205.5" r="3.4"/>
<circle cx="1694.0" cy="197.4" r="2.8"/>
<circle cx="1702.8" cy="189.4" r="2.3"/>
<circle cx="1711.5" cy="181.3" r="1.6"/>
</g>
<g fill="#14b2e2">
<circle cx="1061.8" cy="2123.5" r="3.4"/>
<circle cx="1086" cy="2118.4" r="3.4"/>
<circle cx="1110.6" cy="2118.8" r="3.4"/>
<circle cx="1134.4" cy="2124.7" r="3.4"/>
<circle cx="1156.2" cy="2136.1" r="3.4"/>
<circle cx="1175" cy="2152" r="3.4"/>
<circle cx="1189.3" cy="2172.3" r="3.4"/>
<circle cx="1198.9" cy="2195" r="3.4"/>
<circle cx="1203.1" cy="2219.1" r="3.4"/>
<circle cx="1201.6" cy="2243.7" r="3.4"/>
<circle cx="1194.3" cy="2267.1" r="3.4"/>
<circle cx="1182" cy="2288.4" r="3.4"/>
<circle cx="1165" cy="2306.5" r="3.4"/>
<circle cx="1144.5" cy="2320.2" r="3.4"/>
</g><g fill="#3c3c3b">
<circle cx="1079.1" cy="2174" r="3.4"/>
<circle cx="1103.4" cy="2171.8" r="3.4"/>
<circle cx="1126.2" cy="2180.5" r="3.4"/>
<circle cx="1142.8" cy="2198.2" r="3.4"/>
<circle cx="1149.7" cy="2221.7" r="3.4"/>
<circle cx="1145.4" cy="2245.9" r="3.4"/>
<circle cx="1130.8" cy="2265.7" r="3.4"/>
</g>
<g transform="translate(120,625) scale(0.17082)">
<path fill="#14b2e2" d="M418,130 L915,68 C960,62 995,90 1000,135 L1112,1080 C1118,1130 1090,1170 1040,1178 L560,1262 C510,1270 470,1240 462,1190 L348,250 C340,190 370,138 418,130 Z"/>
<path fill="#fff" d="M380,285 L985,198 L1078,1015 L466,1092 Z"/>
<path stroke="#fff" stroke-width="13" stroke-linecap="round" d="M578,186 L780,160"/>
<path fill="#fff" d="M735,1098 L795,1090 Q815,1088 818,1108 L826,1155 Q828,1172 810,1175 L752,1183 Q732,1185 729,1166 L720,1120 Q718,1101 735,1098 Z"/>
<g fill="none" stroke="#14b2e2" stroke-width="42" stroke-linecap="round"><path d="M490,608 Q530,530 622,552"/><path d="M785,530 Q830,455 918,485"/></g>
<path fill="#14b2e2" d="M592,745 Q760,765 905,648 Q925,800 782,850 Q650,870 592,745 Z"/>
<g stroke="#14b2e2" stroke-width="66" stroke-linecap="round"><path d="M128,395 L258,500"/><path d="M88,695 L258,688"/></g>
<circle cx="1522" cy="248" r="20" fill="#3c3c3b"/>
<circle cx="1522" cy="392" r="20" fill="#3c3c3b"/>
<circle cx="1508" cy="528" r="20" fill="#3c3c3b"/>
<circle cx="1397" cy="622" r="20" fill="#3c3c3b"/>
<circle cx="1320" cy="715" r="20" fill="#3c3c3b"/>
<circle cx="1432" cy="803" r="20" fill="#3c3c3b"/>
<circle cx="1522" cy="905" r="20" fill="#3c3c3b"/>
<circle cx="1522" cy="1048" r="20" fill="#3c3c3b"/>
<circle cx="1522" cy="1192" r="20" fill="#3c3c3b"/>
</g>
<g transform="translate(1290,1680) scale(0.10983)">
<path fill="#14b2e2" d="M170,400 C165,300 230,230 330,200 L520,165 C580,160 600,200 610,250 L725,870 C730,900 700,920 680,930 L450,1090 C420,1120 380,1130 360,1090 C280,900 190,650 170,400 Z"/>
<path fill="#fff" d="M245,340 C250,300 290,270 340,255 L520,215 C560,210 575,230 580,260 L690,860 L420,1070 C400,1085 385,1070 378,1050 C330,850 260,600 245,340 Z"/>
<path fill="#fff" stroke="#14b2e2" stroke-width="22" stroke-linejoin="round" d="M300,410 L520,325 C550,320 560,340 565,360 L640,810 L410,965 Z"/>
<path stroke="#14b2e2" stroke-width="42" stroke-linecap="round" d="M362,292 L448,272"/>
<g fill="none" stroke="#14b2e2" stroke-width="18" stroke-linecap="round"><path d="M385,650 Q400,590 440,600"/><path d="M500,560 Q520,510 560,520"/></g>
<path fill="#14b2e2" d="M445,735 Q520,730 565,640 Q590,740 520,785 Q470,800 445,735 Z"/>
<path fill="#14b2e2" d="M430,1180 C420,1100 520,1000 700,935 C760,920 800,935 850,955 L1400,1200 C1450,1230 1440,1300 1420,1350 C1380,1500 1200,1620 1040,1610 C900,1570 600,1400 480,1300 C450,1270 435,1230 430,1180 Z"/>
<path fill="#fff" d="M480,1180 C480,1120 560,1050 700,990 C750,975 790,985 830,1000 L1360,1240 C1390,1260 1380,1300 1360,1330 C1300,1430 1150,1510 1040,1500 C900,1450 650,1330 520,1250 C490,1230 480,1210 480,1180 Z"/>
<path fill="#fff" d="M1060,1545 C1200,1540 1330,1450 1390,1370 C1360,1480 1230,1580 1060,1575 Z"/>
<path stroke="#fff" stroke-width="14" stroke-linecap="round" d="M470,1085 L630,962"/>
<g fill="#14b2e2">
<ellipse cx="825" cy="1060" rx="72" ry="42" transform="rotate(25 825 1060)"/>
<ellipse cx="725" cy="1125" rx="98" ry="36" transform="rotate(28 725 1125)"/>
<ellipse cx="665" cy="1205" rx="72" ry="42" transform="rotate(25 665 1205)"/>
<ellipse cx="975" cy="1135" rx="40" ry="30" transform="rotate(-35 975 1135)"/>
<ellipse cx="1067" cy="1176" rx="40" ry="30" transform="rotate(-35 1067 1176)"/>
<ellipse cx="1159" cy="1217" rx="40" ry="30" transform="rotate(-35 1159 1217)"/>
<ellipse cx="1251" cy="1258" rx="40" ry="30" transform="rotate(-35 1251 1258)"/>
<ellipse cx="895" cy="1205" rx="40" ry="30" transform="rotate(-35 895 1205)"/>
<ellipse cx="987" cy="1246" rx="40" ry="30" transform="rotate(-35 987 1246)"/>
<ellipse cx="1079" cy="1287" rx="40" ry="30" transform="rotate(-35 1079 1287)"/>
<ellipse cx="1171" cy="1328" rx="40" ry="30" transform="rotate(-35 1171 1328)"/>
<ellipse cx="815" cy="1275" rx="40" ry="30" transform="rotate(-35 815 1275)"/>
<ellipse cx="907" cy="1316" rx="40" ry="30" transform="rotate(-35 907 1316)"/>
<ellipse cx="999" cy="1357" rx="40" ry="30" transform="rotate(-35 999 1357)"/>
<ellipse cx="1091" cy="1398" rx="40" ry="30" transform="rotate(-35 1091 1398)"/>
</g>
<g stroke="#14b2e2" stroke-width="52" stroke-linecap="round"><path d="M822,408 L938,312"/><path d="M822,580 L970,580"/></g>
</g>
<defs><g id="people">
<path fill="#3c3c3b" d="M58,160 C50,95 130,42 210,38 C262,36 292,60 296,98 C230,112 150,135 112,185 C108,235 118,290 126,332 L96,312 C70,262 62,205 58,160 Z"/>
<g fill="none" stroke="#3c3c3b" style="stroke-width:var(--psw,16)" stroke-linecap="round" stroke-linejoin="round">
<path d="M96,316 C120,372 200,422 275,412 C345,400 376,330 371,260 C366,190 332,130 296,96"/>
<path d="M104,300 C84,296 82,330 108,336"/>
<path d="M152,262 Q178,232 210,240 M256,214 Q282,182 314,192"/>
<path d="M250,418 L262,486 C230,510 170,520 165,545 L182,610"/>
<path d="M330,402 L352,440"/>
<path d="M262,486 L300,488 L272,540 Z"/>
</g>
<circle cx="203" cy="276" r="14" fill="#3c3c3b"/><circle cx="303" cy="231" r="14" fill="#3c3c3b"/>
<path fill="#3c3c3b" d="M222,340 Q285,342 336,298 Q322,366 260,363 Q234,358 222,340 Z"/>
<path fill="#3c3c3b" d="M520,290 C495,150 590,72 672,75 C772,76 832,170 836,285 L838,478 L762,512 L700,470 L700,440 C760,420 792,350 790,262 C740,250 660,220 615,180 C590,205 560,235 546,255 C540,330 560,410 622,440 L620,470 L540,482 C530,420 528,350 520,290 Z"/>
<g fill="none" stroke="#3c3c3b" style="stroke-width:var(--psw,15.5)" stroke-linecap="round" stroke-linejoin="round">
<path d="M546,255 C538,340 570,420 660,436 C750,425 795,350 790,262"/>
<path d="M524,250 C500,262 505,310 530,322 M828,262 C850,270 846,316 826,326"/>
<path d="M610,370 Q665,400 722,374"/>
<path d="M620,440 L620,488 Q660,520 700,488 L700,440"/>
</g>
<circle cx="612" cy="286" r="16" fill="#3c3c3b"/><circle cx="726" cy="291" r="16" fill="#3c3c3b"/>
<path fill="#3c3c3b" d="M280,565 C285,462 400,395 510,395 C582,400 622,460 626,545 C565,500 470,512 400,572 C372,602 380,660 376,702 C330,690 280,642 280,565 Z"/>
<path fill="#3c3c3b" d="M424,800 L502,816 L490,872 L424,872 Z"/>
<circle cx="388" cy="775" r="14" fill="#3c3c3b"/>
<g fill="none" stroke="#3c3c3b" style="stroke-width:var(--psw,15.5)" stroke-linecap="round" stroke-linejoin="round">
<path d="M346,690 C360,760 440,802 520,790 C590,775 622,700 616,620 C613,580 602,545 592,528"/>
<path d="M420,657 Q446,634 476,650 M396,616 Q440,588 482,600 M525,621 Q552,598 582,614 M512,586 Q552,560 592,570"/>
<path d="M455,736 Q530,752 582,690"/>
<path d="M505,822 Q545,862 592,812 M600,830 Q700,808 730,890 M442,880 Q400,920 410,986"/>
</g>
<circle cx="1015" cy="632" r="240" fill="#fff" stroke="#3c3c3b" style="stroke-width:var(--gsw,22)"/>
<path fill="#3c3c3b" d="M940,505 L975,455 L1010,432 L1090,428 L1112,455 L1150,440 C1200,470 1240,540 1248,620 L1232,665 L1200,690 L1185,730 L1150,700 L1120,640 L1085,655 L1060,630 L1085,600 L1050,585 L1040,620 L1000,640 L985,610 L955,625 L940,655 L905,640 L905,612 L935,598 L925,570 L890,580 L895,545 L920,540 Z"/>
<path fill="#3c3c3b" d="M890,742 C895,690 960,655 1050,662 L1105,676 L1150,762 L1205,745 C1195,800 1150,850 1085,872 L1042,862 L1022,800 C990,765 955,800 920,792 C900,780 890,765 890,742 Z"/>
<path fill="#3c3c3b" d="M1245,120 C1180,230 1200,380 1300,420 C1370,400 1370,260 1245,120 Z"/>
<path fill="#fff" d="M1248,255 C1250,320 1270,380 1305,418 L1292,420 C1262,380 1246,320 1248,255 Z"/>
<path fill="#3c3c3b" d="M1590,275 C1440,340 1340,470 1420,615 C1560,590 1600,450 1590,275 Z"/>
<path fill="#fff" d="M1562,420 C1540,500 1490,560 1428,604 L1422,594 C1480,550 1530,490 1562,420 Z"/>
</g></defs>
<use href="#people" transform="translate(1370,640) scale(0.23795)"/>
<use href="#people" style="--psw:24;--gsw:32" transform="translate(305.5,1629.5) scale(0.0895)"/>
<g class="dk" font-size="23" transform="scale(0.93,1)">
<text x="134.41" y="2235.20" word-spacing="1.985">Ecologic est un éco-organisme agréée par l’Etat qui depuis 2006, contribue au développement d’une</text>
<text x="134.41" y="2265.95" word-spacing="11.109">économie circulaire fondée sur la prévention, la sensibilisation et le recyclage des déchets</text>
<text x="134.41" y="2296.70" word-spacing="0.486">d’équipements électriques et électroniques, aux côtés d’acteurs engagés. Avec les Ateliers du Bocage,</text>
<text x="134.41" y="2327.45" word-spacing="3.264">acteur de l'ESS, il encourage le réemploi des mobiles et facilite l’accès du plus grand nombre, aux</text>
<text x="134.41" y="2358.20" word-spacing="0.000">nouvelles technologies.</text>
</g>
<text class="b" fill="#ea7d1e" font-size="27" x="751" y="2387" textLength="350.7" lengthAdjust="spacingAndGlyphs">www.ecologic-france.com</text>

</svg>
</body>
</html>
